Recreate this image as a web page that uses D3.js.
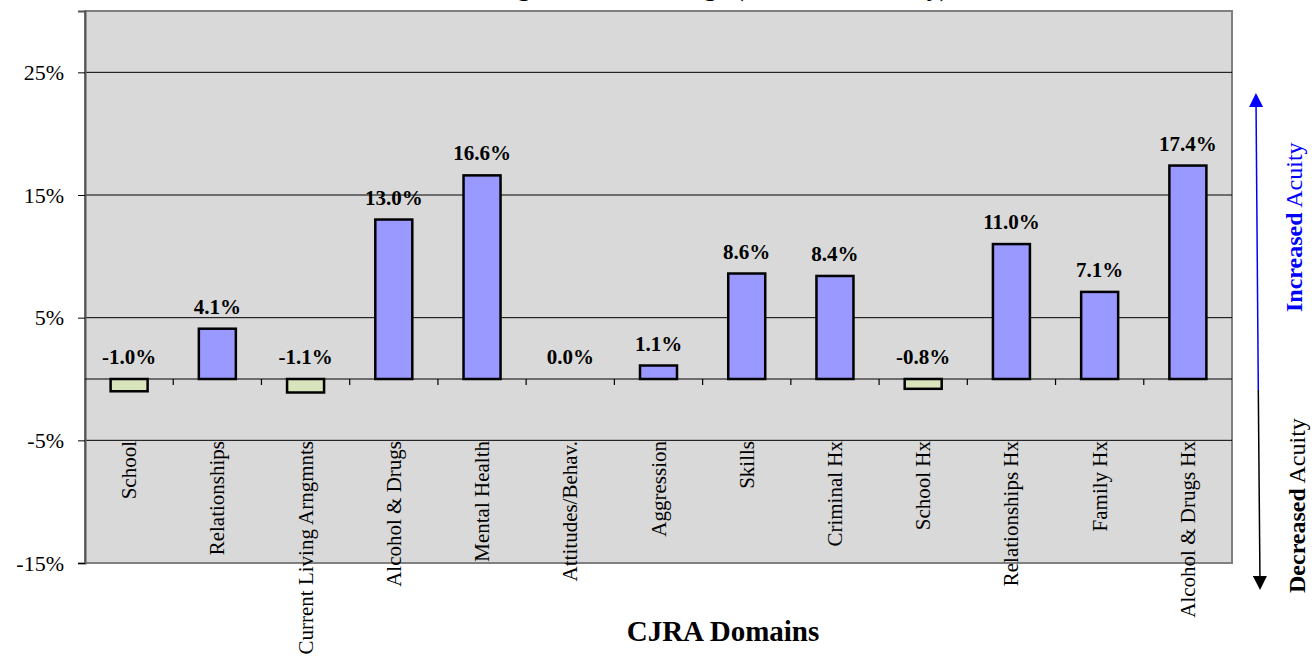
<!DOCTYPE html>
<html>
  <head>
    <meta charset="utf-8">
    <title>CJRA Domains</title>
    <style>
      body { margin: 0; background: #fff; }
      svg text { font-family: "Liberation Serif", "Times New Roman", serif; }
    </style>
  </head>
  <body>
    <svg id="chart" width="1314" height="656"></svg>
  </body>
  <script type="text/javascript" src="https://cdn.jsdelivr.net/npm/d3@7/dist/d3.min.js"></script>
  <script type="text/javascript">
    // chart values
    const categories = ["School", "Relationships", "Current Living Arngmnts", "Alcohol & Drugs",
      "Mental Health", "Attitudes/Behav.", "Aggression", "Skills", "Criminal Hx",
      "School Hx", "Relationships Hx", "Family Hx", "Alcohol & Drugs Hx"];
    const values = [-1.0, 4.1, -1.1, 13.0, 16.6, 0.0, 1.1, 8.6, 8.4, -0.8, 11.0, 7.1, 17.4];
    const yTicks = [-15, -5, 5, 15, 25];
    const title = "Average Domain Change (Total Community)";

    const svg = d3.select("#chart");
    const plotLeft = 85, plotRight = 1232, plotTop = 11, plotBottom = 563;

    const x = d3.scaleBand()
      .domain(categories)
      .range([plotLeft, plotRight])
      .paddingInner(0)
      .paddingOuter(0);

    const y = d3.scaleLinear()
      .domain([-15, 30])
      .range([plotBottom, plotTop]);

    // title, mostly cut off at top (as in the source)
    svg.append("text")
      .attr("x", 700)
      .attr("y", -4)
      .attr("text-anchor", "middle")
      .style("font-size", "26px")
      .style("font-weight", "bold")
      .text(title);

    // plot area
    svg.append("rect")
      .attr("x", plotLeft).attr("y", plotTop)
      .attr("width", plotRight - plotLeft).attr("height", plotBottom - plotTop)
      .attr("fill", "#d9d9d9")
      .attr("stroke", "#808080")
      .attr("stroke-width", 2);

    // gridlines
    svg.append("g").selectAll("line")
      .data(yTicks.filter(d => d !== -15))
      .join("line")
        .attr("x1", plotLeft).attr("x2", plotRight)
        .attr("y1", d => y(d)).attr("y2", d => y(d))
        .attr("stroke", "#000")
        .attr("stroke-width", 1);

    // y axis
    const yAxis = svg.append("g")
      .attr("transform", `translate(${plotLeft},0)`)
      .call(d3.axisLeft(y).tickValues(yTicks).tickSize(7).tickPadding(14)
        .tickFormat(d => d + "%"));
    yAxis.select(".domain").attr("stroke", "#555").attr("stroke-width", 2);
    yAxis.selectAll("text")
      .style("font-family", "'Liberation Serif', 'Times New Roman', serif")
      .style("font-size", "22px")
      .attr("fill", "#000");

    // bars
    svg.append("g").selectAll("rect")
      .data(values)
      .join("rect")
        .attr("x", (d, i) => x(categories[i]) + x.bandwidth() / 2 - 18.5)
        .attr("width", 37)
        .attr("y", d => y(Math.max(0, d)))
        .attr("height", d => Math.abs(y(d) - y(0)))
        .attr("fill", d => d >= 0 ? "#9999ff" : "#d8e4bc")
        .attr("stroke", "#000")
        .attr("stroke-width", d => d === 0 ? 0 : 2.5);

    // zero line with category tick marks
    svg.append("line")
      .attr("x1", plotLeft).attr("x2", plotRight)
      .attr("y1", y(0)).attr("y2", y(0))
      .attr("stroke", "#000").attr("stroke-width", 1.2);
    svg.append("g").selectAll("line")
      .data(categories.slice(1))
      .join("line")
        .attr("x1", d => x(d)).attr("x2", d => x(d))
        .attr("y1", y(0)).attr("y2", y(0) + 6)
        .attr("stroke", "#000").attr("stroke-width", 1.2);

    // value labels
    svg.append("g").selectAll("text")
      .data(values)
      .join("text")
        .attr("x", (d, i) => x(categories[i]) + x.bandwidth() / 2)
        .attr("y", d => y(Math.max(0, d)) - 15)
        .attr("text-anchor", "middle")
        .style("font-size", "21px")
        .style("font-weight", "bold")
        .text(d => d.toFixed(1) + "%");

    // category labels
    svg.append("g").selectAll("text")
      .data(categories)
      .join("text")
        .attr("transform", d => `translate(${x(d) + x.bandwidth() / 2 + 7},441) rotate(-90)`)
        .attr("text-anchor", "end")
        .style("font-size", "21px")
        .text(d => d);

    // axis title
    svg.append("text")
      .attr("x", 723).attr("y", 641)
      .attr("text-anchor", "middle")
      .style("font-size", "29px")
      .style("font-weight", "bold")
      .text("CJRA Domains");

    // acuity arrow
    const defs = svg.append("defs");
    defs.append("marker").attr("id", "headBlue")
      .attr("viewBox", "0 0 10 10").attr("refX", 5).attr("refY", 5)
      .attr("markerWidth", 14).attr("markerHeight", 14).attr("markerUnits", "userSpaceOnUse")
      .attr("orient", "auto")
      .append("path").attr("d", "M0,0 L10,5 L0,10 z").attr("fill", "#0000ff");
    defs.append("marker").attr("id", "headBlack")
      .attr("viewBox", "0 0 10 10").attr("refX", 5).attr("refY", 5)
      .attr("markerWidth", 14).attr("markerHeight", 14).attr("markerUnits", "userSpaceOnUse")
      .attr("orient", "auto")
      .append("path").attr("d", "M0,0 L10,5 L0,10 z").attr("fill", "#000");

    svg.append("line")
      .attr("x1", 1258.3).attr("y1", 390).attr("x2", 1256).attr("y2", 100)
      .attr("stroke", "#0000ff").attr("stroke-width", 1.5)
      .attr("marker-end", "url(#headBlue)");
    svg.append("line")
      .attr("x1", 1258.3).attr("y1", 390).attr("x2", 1260).attr("y2", 583)
      .attr("stroke", "#000").attr("stroke-width", 1.5)
      .attr("marker-end", "url(#headBlack)");

    const inc = svg.append("text")
      .attr("transform", "translate(1302,312) rotate(-90)")
      .attr("fill", "#0000ff")
      .style("font-size", "24px");
    inc.append("tspan").style("font-weight", "bold").text("Increased");
    inc.append("tspan").text(" Acuity");

    const dec = svg.append("text")
      .attr("transform", "translate(1305,593) rotate(-90)")
      .attr("fill", "#000")
      .style("font-size", "24px");
    dec.append("tspan").style("font-weight", "bold").text("Decreased");
    dec.append("tspan").text(" Acuity");
  </script>
</html>
